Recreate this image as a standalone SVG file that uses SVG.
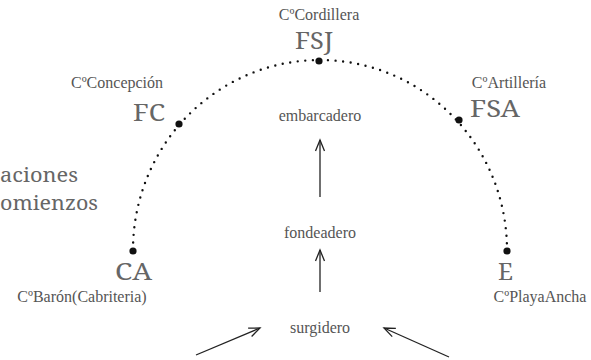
<svg xmlns="http://www.w3.org/2000/svg" width="591" height="360" viewBox="0 0 591 360">
<defs>
<style>
text{fill:#555}
.s{font-family:"Liberation Serif","Times New Roman",serif;font-size:16px;text-anchor:middle}
.b{font-family:"Noto Serif","DejaVu Serif",serif;font-size:24px;fill:#666}
.m{font-family:"Noto Serif","DejaVu Serif",serif;font-size:20px;fill:#666}
.dot{fill:#111}
.arc{fill:none;stroke:#111;stroke-width:2.4;stroke-linecap:round;stroke-dasharray:0 7.6}
.ar{stroke:#222;stroke-width:1.3;fill:none}
</style>
<marker id="ah" markerWidth="14" markerHeight="14" viewBox="-12 -6 14 12" refX="0" refY="0" orient="auto" markerUnits="userSpaceOnUse">
<path d="M-11,-4.5 L0,0 L-11,4.5" fill="none" stroke="#222" stroke-width="1.3"/>
</marker>
</defs>
<rect width="591" height="360" fill="#fff"/>
<g id="arc">
<path class="arc" d="M133,250 A187,190 0 0 1 507,250"/>
</g>
<g id="title">
<text class="m" x="0" y="182" textLength="78" lengthAdjust="spacingAndGlyphs">aciones</text>
<text class="m" x="0" y="210" textLength="98" lengthAdjust="spacingAndGlyphs">omienzos</text>
</g>
<g id="FSJ">
<circle class="dot" cx="319" cy="61" r="3.6"/>
<text class="s" x="319" y="20">CºCordillera</text>
<text class="b" x="295" y="49" textLength="38" lengthAdjust="spacingAndGlyphs">FSJ</text>
</g>
<g id="FC">
<circle class="dot" cx="179" cy="124" r="3.6"/>
<text class="s" x="117" y="88">CºConcepción</text>
<text class="b" x="133" y="121" textLength="32" lengthAdjust="spacingAndGlyphs">FC</text>
</g>
<g id="FSA">
<circle class="dot" cx="459" cy="120" r="3.6"/>
<text class="s" x="509" y="88">CºArtillería</text>
<text class="b" x="470" y="117" textLength="50" lengthAdjust="spacingAndGlyphs">FSA</text>
</g>
<g id="CA">
<circle class="dot" cx="133" cy="251" r="3.6"/>
<text class="b" x="115" y="280" textLength="37" lengthAdjust="spacingAndGlyphs">CA</text>
<text class="s" x="82" y="302">CºBarón(Cabriteria)</text>
</g>
<g id="E">
<circle class="dot" cx="507" cy="251" r="3.6"/>
<text class="b" x="498" y="280" textLength="15" lengthAdjust="spacingAndGlyphs">E</text>
<text class="s" x="540" y="302">CºPlayaAncha</text>
</g>
<g id="embarcadero"><text class="s" x="320" y="121">embarcadero</text></g>
<g id="fondeadero"><text class="s" x="320" y="238">fondeadero</text></g>
<g id="surgidero"><text class="s" x="320" y="333">surgidero</text></g>
<g id="connectors">
<line class="ar" x1="320" y1="197" x2="320" y2="140" marker-end="url(#ah)"/>
<line class="ar" x1="320" y1="292" x2="320" y2="250" marker-end="url(#ah)"/>
<line class="ar" x1="196" y1="355" x2="260" y2="328" marker-end="url(#ah)"/>
<line class="ar" x1="449" y1="357" x2="384" y2="328" marker-end="url(#ah)"/>
</g>
</svg>
